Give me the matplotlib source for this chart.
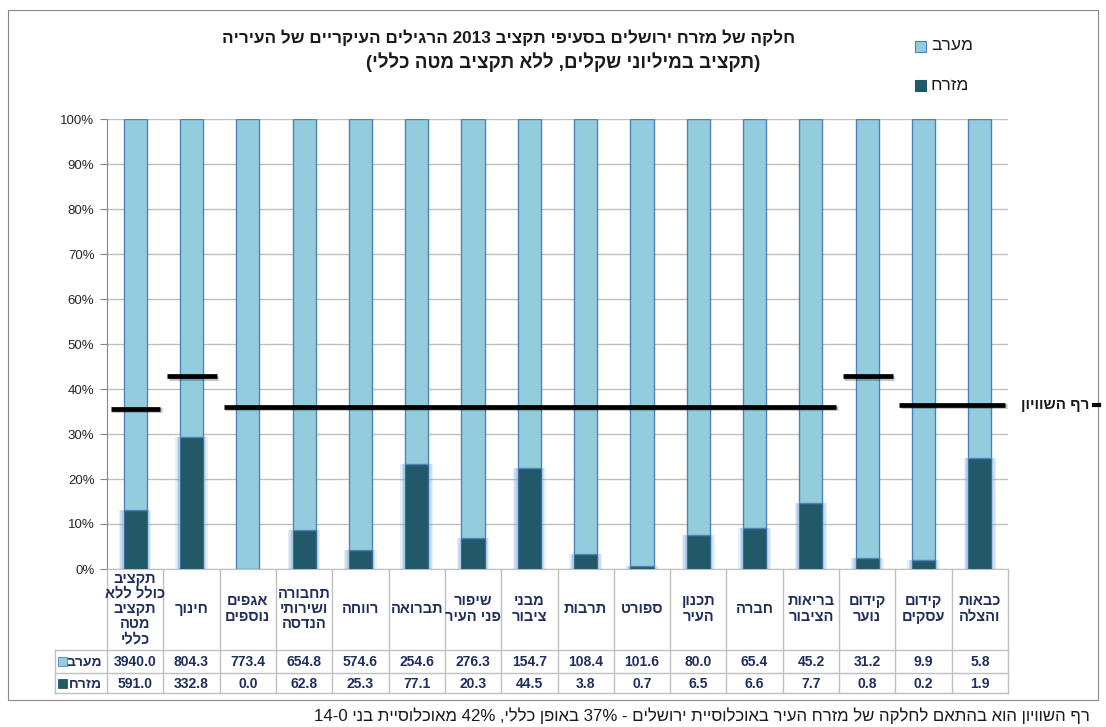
import re

import matplotlib
matplotlib.use("Agg")
import matplotlib.pyplot as plt
import matplotlib.patheffects as pe
from matplotlib.patches import Rectangle
import numpy as np

plt.rcParams["font.family"] = ["Liberation Sans", "DejaVu Sans"]

# ---- data (logical Hebrew order) ----
CATEGORIES = [
    "תקציב\nכולל ללא\nתקציב\nמטה\nכללי",
    "חינוך",
    "אגפים\nנוספים",
    "תחבורה\nושירותי\nהנדסה",
    "רווחה",
    "תברואה",
    "שיפור\nפני העיר",
    "מבני\nציבור",
    "תרבות",
    "ספורט",
    "תכנון\nהעיר",
    "חברה",
    "בריאות\nהציבור",
    "קידום\nנוער",
    "קידום\nעסקים",
    "כבאות\nוהצלה",
]
WEST = [3940.0, 804.3, 773.4, 654.8, 574.6, 254.6, 276.3, 154.7,
        108.4, 101.6, 80.0, 65.4, 45.2, 31.2, 9.9, 5.8]
EAST = [591.0, 332.8, 0.0, 62.8, 25.3, 77.1, 20.3, 44.5,
        3.8, 0.7, 6.5, 6.6, 7.7, 0.8, 0.2, 1.9]

# equality threshold segments: (first category, last category, level %)
EQ_SEGMENTS = [(0, 0, 35.6), (1, 1, 42.8), (2, 12, 36.0), (13, 13, 42.8), (14, 15, 36.5)]

SERIES_WEST = "מערב"
SERIES_EAST = "מזרח"
EQ_LABEL = "רף השוויון"
TITLE_1 = "חלקה של מזרח ירושלים בסעיפי תקציב 2013 הרגילים העיקריים של העיריה"
TITLE_2 = "(תקציב במיליוני שקלים, ללא תקציב מטה כללי)"
FOOTNOTE = "רף השוויון הוא בהתאם לחלקה של מזרח העיר באוכלוסיית ירושלים - 37% באופן כללי, 42% מאוכלוסיית בני 0-14"

WEST_COLOR = "#93CDDD"
EAST_COLOR = "#215968"
EDGE_COLOR = "#4F81BD"
TABLE_TEXT = "#1F2F5C"
GRID = "#BFBFBF"

W, H = 1106, 727


def rtl(s: str) -> str:
    """Crude visual ordering for right-to-left text, line by line."""
    mirror = {"(": ")", ")": "("}
    lines = []
    for line in s.split("\n"):
        tokens = re.findall(r"[0-9A-Za-z.%]+|.", line)
        lines.append("".join(mirror.get(t, t) for t in reversed(tokens)))
    return "\n".join(lines)


def fx(x):
    return x / W


def fy(y):
    return 1 - y / H


west = np.array(WEST)
east = np.array(EAST)
total = west + east
east_pct = east / total * 100
west_pct = west / total * 100
x = np.arange(len(CATEGORIES))

fig = plt.figure(figsize=(W / 100, H / 100), dpi=100)
fig.patches.append(Rectangle((fx(8), fy(700)), fx(1098 - 8), (700 - 10) / H,
                             transform=fig.transFigure, fill=False,
                             edgecolor="#888888", linewidth=0.8))

ax = fig.add_axes([fx(107), fy(569), fx(1008 - 107), 450 / H])

# glow behind east bars
for extra, alpha in [(0.17, 0.18), (0.12, 0.25), (0.07, 0.4)]:
    ax.bar(x, east_pct, width=0.41 + extra, color="#7FADE0", alpha=alpha,
           linewidth=0, zorder=2)
ax.bar(x, east_pct, width=0.41, color=EAST_COLOR, edgecolor="#3C6E9C",
       linewidth=0.8, zorder=3)
ax.bar(x, west_pct, bottom=east_pct, width=0.41, color=WEST_COLOR,
       edgecolor=EDGE_COLOR, linewidth=1.0, zorder=3)

# equality threshold
for first, last, level in EQ_SEGMENTS:
    ax.hlines(level, first - 0.43, last + 0.45, color="black", linewidth=3.4,
              zorder=5, path_effects=[pe.SimpleLineShadow(offset=(1, -1), alpha=0.25),
                                      pe.Normal()])

ax.set_xlim(-0.5, len(CATEGORIES) - 0.5)
ax.set_ylim(0, 100)
ax.set_yticks(np.arange(0, 101, 10))
ax.set_yticklabels([f"{v}%" for v in range(0, 101, 10)], fontsize=9.5, color="#262626")
ax.yaxis.grid(True, color=GRID, linewidth=1)
ax.set_axisbelow(True)
ax.set_xticks([])
ax.tick_params(axis="y", length=5, color="#868686", pad=4)
for side in ["top", "right"]:
    ax.spines[side].set_visible(False)
ax.spines["left"].set_color("#868686")
ax.spines["bottom"].set_color(GRID)

# ---- data table under the plot ----
trans = ax.get_xaxis_transform()
px_per_cat = (1008 - 107) / len(CATEGORIES)


def ay(ypix):
    return (569 - ypix) / 450


def dx(xpix):
    return -0.5 + (xpix - 107) / px_per_cat


line_kw = dict(color=GRID, linewidth=1, transform=trans, clip_on=False)
left_x = dx(55)
for ypix in [650, 673, 693]:
    ax.plot([left_x, len(CATEGORIES) - 0.5], [ay(ypix)] * 2, **line_kw)
for i in range(len(CATEGORIES) + 1):
    ax.plot([i - 0.5] * 2, [0, ay(693)], **line_kw)
ax.plot([left_x] * 2, [ay(650), ay(693)], **line_kw)

for i, label in enumerate(CATEGORIES):
    ax.text(i, ay(609), rtl(label), transform=trans, ha="center", va="center",
            fontsize=10.5, fontweight="bold", color=TABLE_TEXT,
            multialignment="center", linespacing=1.1, clip_on=False)
    ax.text(i, ay(661.5), f"{WEST[i]:.1f}", transform=trans, ha="center", va="center",
            fontsize=10, fontweight="bold", color=TABLE_TEXT, clip_on=False)
    ax.text(i, ay(683.5), f"{EAST[i]:.1f}", transform=trans, ha="center", va="center",
            fontsize=10, fontweight="bold", color=TABLE_TEXT, clip_on=False)

for ypix, name, col in [(661.5, SERIES_WEST, WEST_COLOR), (683.5, SERIES_EAST, EAST_COLOR)]:
    ax.add_patch(Rectangle((dx(58), ay(ypix + 4.5)), 9 / px_per_cat, 9 / 450,
                           transform=trans, facecolor=col,
                           edgecolor=EDGE_COLOR if col == WEST_COLOR else col,
                           linewidth=0.6, clip_on=False))
    ax.text(dx(102), ay(ypix), rtl(name), transform=trans, ha="right", va="center",
            fontsize=10, fontweight="bold", color=TABLE_TEXT, clip_on=False)

# ---- titles, legend, labels ----
fig.text(fx(509), fy(38), rtl(TITLE_1), ha="center", va="center",
         fontsize=12.3, fontweight="bold", color="#1a1a1a")
fig.text(fx(563), fy(62), rtl(TITLE_2), ha="center", va="center",
         fontsize=13.5, fontweight="bold", color="#1a1a1a")

for ypix, name, col in [(46, SERIES_WEST, WEST_COLOR), (85, SERIES_EAST, EAST_COLOR)]:
    fig.patches.append(Rectangle((fx(915), fy(ypix + 5.5)), fx(11), 11 / H,
                                 transform=fig.transFigure, facecolor=col,
                                 edgecolor=EDGE_COLOR if col == WEST_COLOR else col,
                                 linewidth=0.8))
    fig.text(fx(931), fy(ypix), rtl(name), ha="left", va="center",
             fontsize=12.5, color="#1a1a1a")

fig.text(fx(1089), fy(405), rtl(EQ_LABEL), ha="right", va="center",
         fontsize=11, fontweight="bold", color="#1a1a1a")
fig.lines.append(plt.Line2D([fx(1094), fx(1099)], [fy(405)] * 2, color="black",
                            linewidth=3, transform=fig.transFigure))

fig.text(fx(1090), fy(716), rtl(FOOTNOTE), ha="right", va="center",
         fontsize=12.1, color="#1a1a1a")

fig.savefig("out.png", dpi=100)
